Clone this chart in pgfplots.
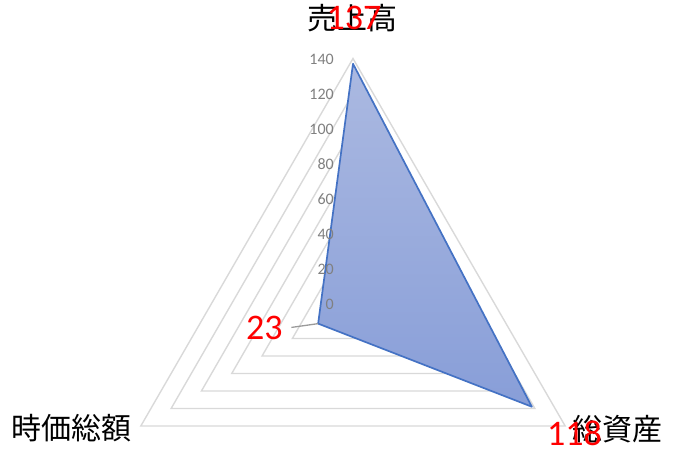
\documentclass[border=0pt]{standalone}
\usepackage{pgfplots}
\pgfplotsset{compat=1.18}
\usepgfplotslibrary{polar}
\usepackage{fontspec}
\setmainfont{Carlito}
\newfontfamily\cjk{Noto Sans CJK JP}

\definecolor{gridc}{RGB}{217,217,217}
\definecolor{tickc}{RGB}{128,128,128}
\definecolor{edgec}{RGB}{68,114,196}
\definecolor{filltop}{RGB}{171,185,225}
\definecolor{fillbot}{RGB}{136,158,216}
\definecolor{lblred}{RGB}{255,0,0}

\begin{document}
\begin{tikzpicture}
\begin{polaraxis}[
    scale only axis,
    width=490pt, height=490pt,
    xmin=0, xmax=360,
    ymin=0, ymax=140,
    hide axis,
    clip=false,
]
% triangular grid rings
\pgfplotsinvokeforeach{20,40,...,140}{
  \addplot[gridc, line width=1.4pt, line join=miter, forget plot] coordinates {(90,#1) (330,#1) (210,#1)} -- cycle;
}
% series: 売上高, 総資産, 時価総額
\addplot[draw=edgec, line width=1.7pt, line join=round, top color=filltop, bottom color=fillbot]
  coordinates {(90,137) (330,118) (210,23)} -- cycle;
% radial tick labels (drawn over the series, as in the reference)
\pgfplotsinvokeforeach{0,20,...,140}{
  \node[font=\fontsize{16}{16}\selectfont, text=tickc, anchor=east, inner sep=0pt, xshift=-19pt, yshift=-1pt] at (axis cs:90,#1) {#1};
}

\coordinate (c) at (axis cs:0,0);
\coordinate (p1) at (axis cs:90,137);
\coordinate (p2) at (axis cs:330,118);
\coordinate (p3) at (axis cs:210,23);
\end{polaraxis}

% category labels
\node[font=\cjk\fontsize{30}{30}\selectfont, inner sep=0pt] at ([xshift=-0.5pt,yshift=285pt]c) {売上高};
\node[font=\cjk\fontsize{30}{30}\selectfont, inner sep=0pt] at ([xshift=264.5pt,yshift=-125.5pt]c) {総資産};
\node[font=\cjk\fontsize{30}{30}\selectfont, inner sep=0pt] at ([xshift=-281.5pt,yshift=-124.5pt]c) {時価総額};

% data labels
\draw[tickc!80, line width=1.3pt] (p3) -- ([xshift=-26.7pt,yshift=-3.8pt]p3);
\node[font=\fontsize{36}{36}\selectfont, text=lblred, inner sep=0pt] at ([xshift=1pt,yshift=45.75pt]p1) {137};
\node[font=\fontsize{36}{36}\selectfont, text=lblred, inner sep=0pt] at ([xshift=42.7pt,yshift=-26.8pt]p2) {118};
\node[font=\fontsize{36}{36}\selectfont, text=lblred, inner sep=0pt] at ([xshift=-53.7pt,yshift=-4.3pt]p3) {23};

\pgfresetboundingbox
\path[use as bounding box] ([xshift=-353pt,yshift=-153.5pt]c) rectangle ([xshift=320pt,yshift=303.5pt]c);
\end{tikzpicture}
\end{document}
